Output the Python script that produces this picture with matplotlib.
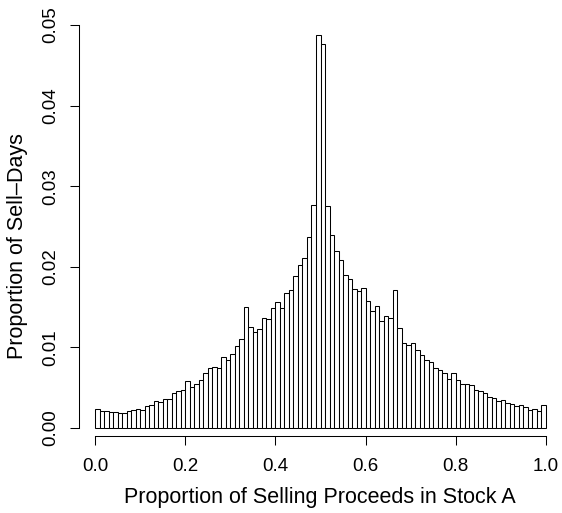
import numpy as np
import matplotlib
matplotlib.use("Agg")
import matplotlib.pyplot as plt

# histogram of selling proceeds share, 100 bins on [0, 1]
bin_edges = np.linspace(0.0, 1.0, 101)
proportions = [
    0.0024, 0.0021, 0.0021, 0.0020, 0.0020, 0.0019, 0.0019, 0.0021, 0.0022, 0.0024,
    0.0022, 0.0027, 0.0029, 0.0034, 0.0032, 0.0036, 0.0036, 0.0043, 0.0046, 0.0047,
    0.0058, 0.0051, 0.0055, 0.0060, 0.0068, 0.0074, 0.0076, 0.0075, 0.0088, 0.0084,
    0.0092, 0.0102, 0.0110, 0.0150, 0.0125, 0.0119, 0.0123, 0.0137, 0.0135, 0.0149,
    0.0156, 0.0149, 0.0168, 0.0171, 0.0188, 0.0202, 0.0211, 0.0237, 0.0277, 0.0487,
    0.0476, 0.0275, 0.0239, 0.0220, 0.0208, 0.0190, 0.0185, 0.0172, 0.0170, 0.0174,
    0.0157, 0.0145, 0.0151, 0.0133, 0.0139, 0.0136, 0.0171, 0.0124, 0.0106, 0.0103,
    0.0106, 0.0097, 0.0090, 0.0084, 0.0082, 0.0075, 0.0072, 0.0068, 0.0061, 0.0068,
    0.0060, 0.0055, 0.0055, 0.0053, 0.0047, 0.0046, 0.0043, 0.0039, 0.0037, 0.0034,
    0.0035, 0.0031, 0.0030, 0.0027, 0.0028, 0.0026, 0.0022, 0.0024, 0.0021, 0.0028,
]
x_ticks = [0.0, 0.2, 0.4, 0.6, 0.8, 1.0]
x_tick_labels = ["0.0", "0.2", "0.4", "0.6", "0.8", "1.0"]
y_ticks = [0.00, 0.01, 0.02, 0.03, 0.04, 0.05]
y_tick_labels = ["0.00", "0.01", "0.02", "0.03", "0.04", "0.05"]

plt.rcParams['font.family'] = ['Liberation Sans', 'DejaVu Sans']

W, H = 562, 513
fig = plt.figure(figsize=(W / 100, H / 100), dpi=100)
# axes box in pixels: left spine at 79, bottom spine at 436
left, right, top, bottom = 79, 562, 20, 436
ax = fig.add_axes([left / W, 1 - bottom / H, (right - left) / W, (bottom - top) / H])

# data 0 -> px 95, 1 -> px 546 ; y 0 -> px 428, 0.05 -> px 25
xs = 451.0
ys = 403.0 / 0.05
ax.set_xlim(-(95 - left) / xs, (right - 95) / xs)
ax.set_ylim(-(bottom - 428) / ys, (428 - top) / ys)

ax.bar(bin_edges[:-1], proportions, width=np.diff(bin_edges), align='edge',
       color='white', edgecolor='black', linewidth=0.75)

for s in ['top', 'right']:
    ax.spines[s].set_visible(False)
ax.spines['left'].set_bounds(0, 0.05)
ax.spines['bottom'].set_bounds(0, 1)
for s in ['left', 'bottom']:
    ax.spines[s].set_linewidth(0.75)

ax.set_xticks(x_ticks)
ax.set_xticklabels(x_tick_labels)
ax.set_yticks(y_ticks)
ax.set_yticklabels(y_tick_labels, rotation=90, va='center')
ax.tick_params(length=6.5, width=0.75, labelsize=13.5)
ax.tick_params(axis='x', pad=9.5)
ax.tick_params(axis='y', pad=8)

ax.set_xlabel("Proportion of Selling Proceeds in Stock A", fontsize=15.5, va='center')
ax.set_ylabel("Proportion of Sell\u2013Days", fontsize=15.5, va='center')
# label centres at px (320, 498) and px (18, 246)
ax.xaxis.set_label_coords((320 - left) / (right - left), (bottom - 498) / (bottom - top))
ax.yaxis.set_label_coords((18 - left) / (right - left), (bottom - 246) / (bottom - top))

fig.savefig("out.png", dpi=100)
